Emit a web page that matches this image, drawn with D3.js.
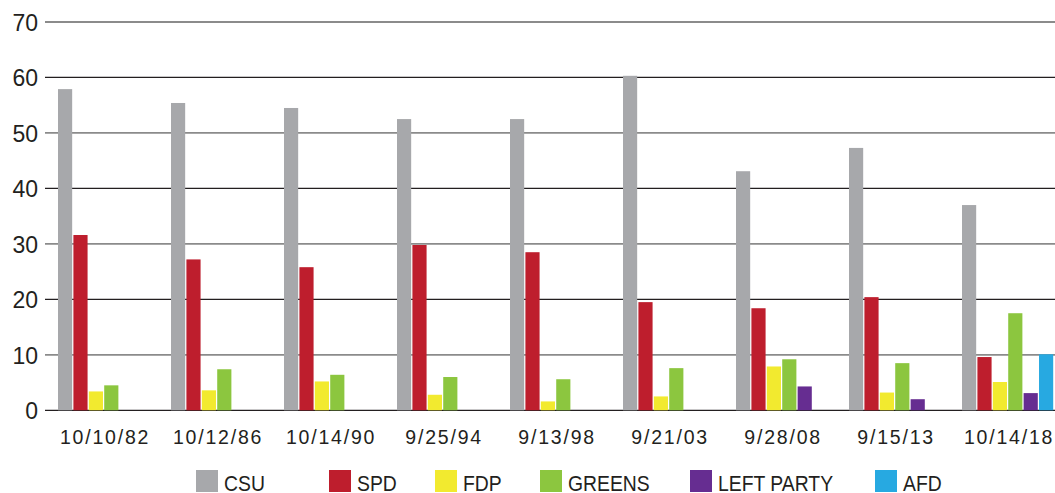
<!DOCTYPE html>
<html>
<head>
<meta charset="utf-8">
<script src="https://cdn.jsdelivr.net/npm/d3@7"></script>
<style>
  html, body { margin: 0; padding: 0; background: #ffffff; }
  svg { display: block; }
</style>
</head>
<body>
<svg id="chart" width="1055" height="493"></svg>
<script>
// ---- data ----
const dates = ["10/10/82", "10/12/86", "10/14/90", "9/25/94", "9/13/98", "9/21/03", "9/28/08", "9/15/13", "10/14/18"];
const parties = ["CSU", "SPD", "FDP", "GREENS", "LEFT PARTY", "AFD"];
const csu    = [57.9, 55.4, 54.5, 52.5, 52.5, 60.3, 43.1, 47.3, 37.0];
const spd    = [31.6, 27.2, 25.8, 29.8, 28.5, 19.5, 18.4, 20.4, 9.6];
const fdp    = [3.4, 3.6, 5.2, 2.8, 1.6, 2.5, 7.9, 3.2, 5.1];
const greens = [4.5, 7.4, 6.4, 6.0, 5.6, 7.6, 9.2, 8.5, 17.5];
const left   = [null, null, null, null, null, null, 4.3, 2.0, 3.1];
const afd    = [null, null, null, null, null, null, null, null, 10.1];
const yTicks = [0, 10, 20, 30, 40, 50, 60, 70];

const seriesValues = [csu, spd, fdp, greens, left, afd];
const colors = ["#a7a8ab", "#be1e2d", "#f2ea2f", "#8cc63f", "#662d91", "#27a9e1"];

// ---- layout ----
const svg = d3.select("#chart");
const W = 1055;
const y = d3.scaleLinear().domain([0, 70]).range([410.3, 22]);
const x0 = d3.scaleBand().domain(dates).range([58, 1053.2]).paddingInner(0.193).paddingOuter(0);
const x1 = d3.scaleBand().domain(parties).range([0, x0.bandwidth()]).paddingInner(0.08).paddingOuter(0);
const color = d3.scaleOrdinal().domain(parties).range(colors);

// gridlines
const grid = svg.append("g");
grid.selectAll("line").data(yTicks).join("line")
  .attr("x1", 45).attr("x2", W)
  .attr("y1", d => y(d)).attr("y2", d => y(d))
  .attr("stroke", d => (d / 10) % 2 === 1 ? "#8b8b8b" : "#231f20")
  .attr("stroke-width", d => (d / 10) % 2 === 1 ? 1.8 : 1.3);

// y axis labels
const yAxis = d3.axisLeft(y).tickValues(yTicks).tickSize(0).tickPadding(0);
const yg = svg.append("g").attr("transform", "translate(38,0)").call(yAxis);
yg.select(".domain").remove();
yg.selectAll("text")
  .attr("font-family", "'Liberation Sans', Arial, sans-serif")
  .attr("font-size", 23)
  .attr("fill", "#231f20")
  .attr("dy", "0.36em");

// bars
const rows = dates.map((d, i) => ({ date: d, vals: parties.map((p, j) => ({ party: p, value: seriesValues[j][i] })) }));
const groups = svg.append("g").selectAll("g").data(rows).join("g")
  .attr("transform", d => `translate(${x0(d.date)},0)`);
groups.selectAll("rect").data(d => d.vals.filter(v => v.value != null)).join("rect")
  .attr("x", d => x1(d.party))
  .attr("width", x1.bandwidth())
  .attr("y", d => y(d.value))
  .attr("height", d => y(0) - y(d.value))
  .attr("fill", d => color(d.party));

// x axis labels
const xAxis = d3.axisBottom(x0).tickSize(0).tickPadding(0);
const xg = svg.append("g").attr("transform", "translate(1.5,444)").call(xAxis);
xg.select(".domain").remove();
xg.selectAll("text")
  .attr("font-family", "'Liberation Sans', Arial, sans-serif")
  .attr("font-size", 19.5)
  .attr("letter-spacing", "1.8px")
  .attr("fill", "#231f20")
  .attr("dy", 0)
  .attr("y", 0);

// legend
const legendX = [196, 329, 435, 540, 690, 875];
const legend = svg.append("g").selectAll("g").data(parties).join("g")
  .attr("transform", (d, i) => `translate(${legendX[i]},470)`);
legend.append("rect").attr("width", 22).attr("height", 22).attr("fill", d => color(d));
legend.append("text")
  .attr("transform", "translate(28,21) scale(0.88,1)")
  .attr("font-family", "'Liberation Sans', Arial, sans-serif")
  .attr("font-size", 22)
  .attr("fill", "#231f20")
  .text(d => d);
</script>
</body>
</html>
